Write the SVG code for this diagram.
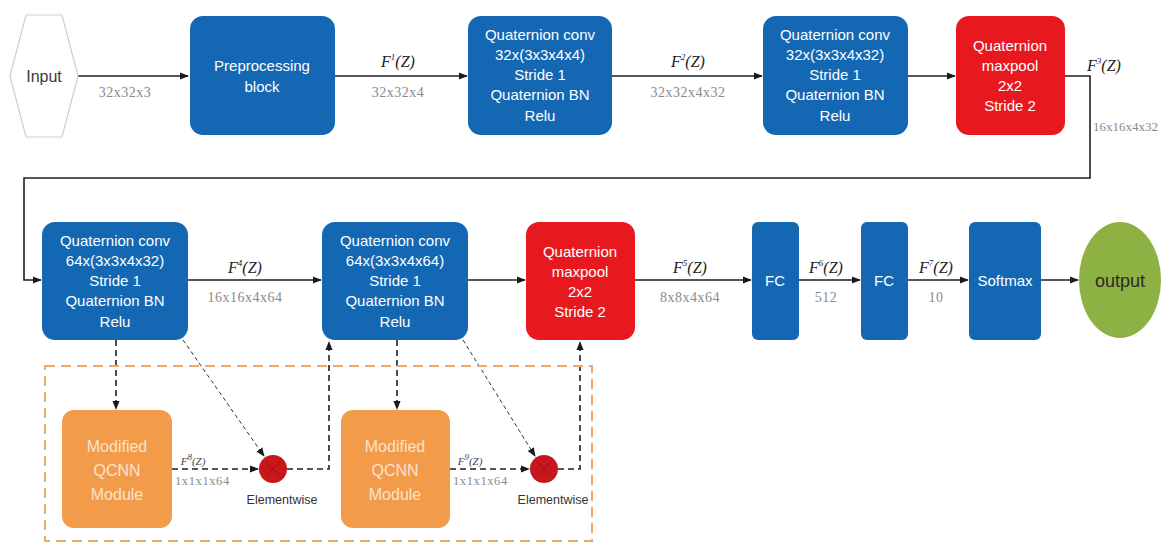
<svg xmlns="http://www.w3.org/2000/svg" width="1161" height="544" viewBox="0 0 1161 544">
<defs>
<marker id="ah" viewBox="0 0 10 10" refX="9" refY="5" markerWidth="9" markerHeight="9" markerUnits="userSpaceOnUse" orient="auto">
<path d="M0,1 L10,5 L0,9 Z" fill="#1a1a1a"/>
</marker>
</defs>
<style>
.blue{fill:#1467b3;}
.red{fill:#e8191e;}
.org{fill:#f29b4a;}
.bt{font-family:"Liberation Sans",Arial,sans-serif;font-size:15px;fill:#ffffff;text-anchor:middle;}
.ot{font-family:"Liberation Sans",Arial,sans-serif;font-size:16px;fill:#fbe3cc;text-anchor:middle;}
.fz{font-family:"Liberation Serif","Times New Roman",serif;font-style:italic;font-size:16px;fill:#222;text-anchor:middle;}
.fzs{font-family:"Liberation Serif","Times New Roman",serif;font-style:italic;font-size:11px;fill:#444;text-anchor:middle;}
.sup{font-size:9px;}
.dim{font-family:"Liberation Serif","Times New Roman",serif;font-size:14px;letter-spacing:0.5px;fill:#8a8a8a;text-anchor:middle;}
.dims{font-family:"Liberation Serif","Times New Roman",serif;font-size:12.5px;letter-spacing:0.6px;fill:#8a8a8a;text-anchor:start;}
.ln{fill:none;stroke:#1f1f1f;stroke-width:1.6;}
.dl{fill:none;stroke:#1f1f1f;stroke-width:1.6;stroke-dasharray:6,4;}
.dd{fill:none;stroke:#333;stroke-width:1;stroke-dasharray:4,3;}
.ew{font-family:"Liberation Sans",Arial,sans-serif;font-size:12.5px;fill:#333;text-anchor:middle;}
</style>

<g id="connectors">
<line class="ln" x1="78" y1="76" x2="188" y2="76" marker-end="url(#ah)"/>
<line class="ln" x1="335" y1="76" x2="467" y2="76" marker-end="url(#ah)"/>
<line class="ln" x1="612" y1="76" x2="762" y2="76" marker-end="url(#ah)"/>
<line class="ln" x1="908" y1="76" x2="955" y2="76" marker-end="url(#ah)"/>
<polyline class="ln" points="1065,76 1090,76 1090,178 24,178 24,280 41,280" marker-end="url(#ah)"/>
<line class="ln" x1="188" y1="280" x2="321" y2="280" marker-end="url(#ah)"/>
<line class="ln" x1="468" y1="280" x2="525" y2="280" marker-end="url(#ah)"/>
<line class="ln" x1="635" y1="280" x2="751" y2="280" marker-end="url(#ah)"/>
<line class="ln" x1="799" y1="280" x2="860" y2="280" marker-end="url(#ah)"/>
<line class="ln" x1="908" y1="280" x2="968" y2="280" marker-end="url(#ah)"/>
<line class="ln" x1="1041" y1="280" x2="1078" y2="280" marker-end="url(#ah)"/>

<line class="dl" x1="116" y1="340" x2="116" y2="409" marker-end="url(#ah)"/>
<line class="dl" x1="172" y1="469" x2="258" y2="469" marker-end="url(#ah)"/>
<line class="dd" x1="183" y1="340" x2="264" y2="456" marker-end="url(#ah)"/>
<polyline class="dl" points="287,469 329,469 329,342" marker-end="url(#ah)"/>

<line class="dl" x1="397" y1="340" x2="397" y2="409" marker-end="url(#ah)"/>
<line class="dl" x1="450" y1="469" x2="529" y2="469" marker-end="url(#ah)"/>
<line class="dd" x1="463" y1="340" x2="535" y2="456" marker-end="url(#ah)"/>
<polyline class="dl" points="558,469 580,469 580,342" marker-end="url(#ah)"/>

<text class="dim" x="125" y="97">32x32x3</text>
<text class="fz" x="398" y="67">F<tspan class="sup" dy="-7">1</tspan><tspan dy="7">(Z)</tspan></text>
<text class="dim" x="398" y="97">32x32x4</text>
<text class="fz" x="688" y="67">F<tspan class="sup" dy="-7">2</tspan><tspan dy="7">(Z)</tspan></text>
<text class="dim" x="688" y="97">32x32x4x32</text>
<text class="fz" x="1104" y="71">F<tspan class="sup" dy="-7">3</tspan><tspan dy="7">(Z)</tspan></text>
<text class="dim" x="1093" y="131" style="text-anchor:start;font-size:13px;letter-spacing:0">16x16x4x32</text>
<text class="fz" x="245" y="273">F<tspan class="sup" dy="-7">4</tspan><tspan dy="7">(Z)</tspan></text>
<text class="dim" x="245" y="302">16x16x4x64</text>
<text class="fz" x="690" y="273">F<tspan class="sup" dy="-7">5</tspan><tspan dy="7">(Z)</tspan></text>
<text class="dim" x="690" y="302">8x8x4x64</text>
<text class="fz" x="826" y="273">F<tspan class="sup" dy="-7">6</tspan><tspan dy="7">(Z)</tspan></text>
<text class="dim" x="826" y="302">512</text>
<text class="fz" x="936" y="273">F<tspan class="sup" dy="-7">7</tspan><tspan dy="7">(Z)</tspan></text>
<text class="dim" x="936" y="302">10</text>
<text class="fzs" x="193" y="465">F<tspan class="sup" dy="-5">8</tspan><tspan dy="5">(Z)</tspan></text>
<text class="dims" x="175" y="485">1x1x1x64</text>
<text class="fzs" x="470" y="465">F<tspan class="sup" dy="-5">9</tspan><tspan dy="5">(Z)</tspan></text>
<text class="dims" x="453" y="485">1x1x1x64</text>
</g>

<rect id="module-frame" x="45" y="366" width="547" height="175" fill="none" stroke="#f0a868" stroke-width="2" stroke-dasharray="10,6"/>

<g id="input">
<polygon points="26,15 62,15 78,76 62,137 26,137 10,76" fill="#ffffff" stroke="#cfcfcf" stroke-width="1.2"/>
<text x="44" y="82" style="font-family:'Liberation Sans',Arial,sans-serif;font-size:16px;fill:#3a3a3a;text-anchor:middle">Input</text>
</g>

<g id="preproc">
<rect class="blue" x="190" y="16" width="145" height="119" rx="13"/>
<text class="bt" x="262" y="71">Preprocessing</text>
<text class="bt" x="262" y="92">block</text>
</g>

<g id="qconv1">
<rect class="blue" x="468" y="16" width="144" height="119" rx="13"/>
<text class="bt" x="540" y="40">Quaternion conv</text>
<text class="bt" x="540" y="60">32x(3x3x4x4)</text>
<text class="bt" x="540" y="80">Stride 1</text>
<text class="bt" x="540" y="100">Quaternion BN</text>
<text class="bt" x="540" y="121">Relu</text>
</g>

<g id="qconv2">
<rect class="blue" x="763" y="16" width="145" height="119" rx="13"/>
<text class="bt" x="835" y="40">Quaternion conv</text>
<text class="bt" x="835" y="60">32x(3x3x4x32)</text>
<text class="bt" x="835" y="80">Stride 1</text>
<text class="bt" x="835" y="100">Quaternion BN</text>
<text class="bt" x="835" y="121">Relu</text>
</g>

<g id="maxpool1">
<rect class="red" x="956" y="16" width="109" height="119" rx="13"/>
<text class="bt" x="1010" y="51">Quaternion</text>
<text class="bt" x="1010" y="71">maxpool</text>
<text class="bt" x="1010" y="91">2x2</text>
<text class="bt" x="1010" y="111">Stride 2</text>
</g>

<g id="qconv3">
<rect class="blue" x="42" y="222" width="146" height="118" rx="13"/>
<text class="bt" x="115" y="246">Quaternion conv</text>
<text class="bt" x="115" y="266">64x(3x3x4x32)</text>
<text class="bt" x="115" y="286">Stride 1</text>
<text class="bt" x="115" y="306">Quaternion BN</text>
<text class="bt" x="115" y="327">Relu</text>
</g>

<g id="qconv4">
<rect class="blue" x="322" y="222" width="146" height="118" rx="13"/>
<text class="bt" x="395" y="246">Quaternion conv</text>
<text class="bt" x="395" y="266">64x(3x3x4x64)</text>
<text class="bt" x="395" y="286">Stride 1</text>
<text class="bt" x="395" y="306">Quaternion BN</text>
<text class="bt" x="395" y="327">Relu</text>
</g>

<g id="maxpool2">
<rect class="red" x="526" y="222" width="109" height="118" rx="13"/>
<text class="bt" x="580" y="257">Quaternion</text>
<text class="bt" x="580" y="277">maxpool</text>
<text class="bt" x="580" y="297">2x2</text>
<text class="bt" x="580" y="317">Stride 2</text>
</g>

<g id="fc1">
<rect class="blue" x="752" y="222" width="47" height="118" rx="6"/>
<text class="bt" x="775" y="286">FC</text>
</g>

<g id="fc2">
<rect class="blue" x="861" y="222" width="47" height="118" rx="6"/>
<text class="bt" x="884" y="286">FC</text>
</g>

<g id="softmax">
<rect class="blue" x="969" y="222" width="72" height="118" rx="6"/>
<text class="bt" x="1005" y="286">Softmax</text>
</g>

<g id="output">
<ellipse cx="1120" cy="280" rx="41" ry="58" fill="#8db143"/>
<text x="1120" y="287" style="font-family:'Liberation Sans',Arial,sans-serif;font-size:18px;fill:#2a2a2a;text-anchor:middle">output</text>
</g>

<g id="module1">
<rect class="org" x="62" y="410" width="110" height="118" rx="12"/>
<text class="ot" x="117" y="452">Modified</text>
<text class="ot" x="117" y="476">QCNN</text>
<text class="ot" x="117" y="500">Module</text>
</g>

<g id="module2">
<rect class="org" x="341" y="410" width="109" height="118" rx="12"/>
<text class="ot" x="395" y="452">Modified</text>
<text class="ot" x="395" y="476">QCNN</text>
<text class="ot" x="395" y="500">Module</text>
</g>

<g id="elementwise1">
<circle cx="273" cy="469" r="14" fill="#c8161d"/>
<path d="M266,462 L280,476 M280,462 L266,476" stroke="#9a1016" stroke-width="1"/>
<text class="ew" x="282" y="504">Elementwise</text>
</g>

<g id="elementwise2">
<circle cx="544" cy="469" r="14" fill="#c8161d"/>
<path d="M537,462 L551,476 M551,462 L537,476" stroke="#9a1016" stroke-width="1"/>
<text class="ew" x="553" y="504">Elementwise</text>
</g>
</svg>
